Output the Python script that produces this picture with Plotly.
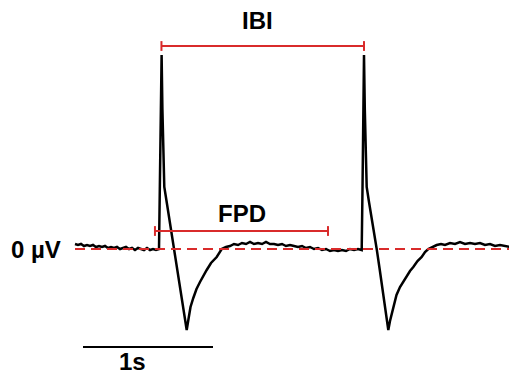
import plotly.graph_objects as go

# Field-potential trace: time (s) and voltage (µV)
time_s = [
    0.0000, 0.0231, 0.0462, 0.0692, 0.0923, 0.1154, 0.1385, 0.1615, 0.1846, 0.2077,
    0.2308, 0.2538, 0.2769, 0.3000, 0.3231, 0.3462, 0.3692, 0.3923, 0.4154, 0.4385,
    0.4615, 0.4846, 0.5077, 0.5308, 0.5538, 0.5769, 0.6000, 0.6231, 0.6462,
    0.6523, 0.6600, 0.6662, 0.6723, 0.6785, 0.6869, 0.7077, 0.7308, 0.7500, 0.7638,
    0.7846, 0.8077, 0.8308, 0.8462, 0.8592, 0.8731, 0.8885, 0.9100, 0.9346, 0.9615,
    0.9846, 1.0131, 1.0462, 1.0900, 1.1285, 1.1615, 1.1923, 1.2231, 1.2538, 1.2846,
    1.3154, 1.3462, 1.3769, 1.4077, 1.4385, 1.4692, 1.5000, 1.5308, 1.5615, 1.5923,
    1.6231, 1.6538, 1.6846, 1.7154, 1.7462, 1.7769, 1.8077, 1.8385, 1.8692, 1.9000,
    1.9308, 1.9615, 1.9923, 2.0231, 2.0538, 2.0846, 2.1154, 2.1462, 2.1769, 2.2054,
    2.2115, 2.2177, 2.2231, 2.2292, 2.2354, 2.2438, 2.2615, 2.2846, 2.3038, 2.3208,
    2.3423, 2.3654, 2.3885, 2.4100, 2.4231, 2.4485, 2.4731, 2.5000, 2.5231, 2.5515,
    2.5769, 2.6023, 2.6346, 2.6669, 2.6923, 2.7177, 2.7462, 2.7823, 2.8154, 2.8462,
    2.8846, 2.9231, 2.9615, 3.0000, 3.0385, 3.0769, 3.1154, 3.1538, 3.1923, 3.2308,
    3.2692, 3.3077, 3.3462, 3.3769, 3.4000,
]
voltage_uv = [
    5, 4, 5, 3, 4, 3, 4, 2, 3, 2,
    3, 1, 2, 1, 2, 0, 1, 2, 0, 1,
    -1, 1, 0, -1, 1, -1, 0, -1, 0,
    60, 150, 194, 140, 95, 62, 45, 26, 11, 0,
    -18, -38, -58, -71, -81, -70, -58, -49, -40, -33,
    -27, -21, -14, -8, 0, 2, 3, 5, 4, 6,
    5, 7, 5, 6, 5, 7, 5, 5, 4, 5,
    3, 4, 3, 2, 3, 1, 2, 0, 1, -1,
    0, -2, -1, -2, -1, -2, 0, -1, 0, -1,
    60, 150, 194, 140, 95, 62, 47, 30, 15, 0,
    -19, -39, -60, -81, -72, -58, -46, -38, -33, -28,
    -22, -18, -12, -8, -3, 0, 2, 4, 5, 4,
    6, 5, 7, 5, 6, 5, 6, 4, 5, 3,
    4, 3, 2, 2, 1,
]

# Annotation bars (s, µV)
ibi_t = [0.665, 2.223]
ibi_v = [203, 203]
fpd_t = [0.615, 1.946]
fpd_v = [18, 18]
zero_t = [0.0, 3.4]
zero_v = [0, 0]
scale_t = [0.0615, 1.0615]
scale_v = [-98, -98]

RED = "#d92b2b"
FONT = "Liberation Sans, Arial, sans-serif"

fig = go.Figure()
fig.add_trace(go.Scatter(x=time_s, y=voltage_uv, mode="lines",
                         line=dict(color="black", width=2.5), hoverinfo="skip"))
fig.add_trace(go.Scatter(x=zero_t, y=zero_v, mode="lines",
                         line=dict(color=RED, width=2, dash="10px,6px"), hoverinfo="skip"))
for tt, vv in [(ibi_t, ibi_v), (fpd_t, fpd_v)]:
    fig.add_trace(go.Scatter(x=tt, y=vv, mode="lines+markers",
                             line=dict(color=RED, width=2),
                             marker=dict(symbol="line-ns", size=7,
                                         line=dict(color=RED, width=2)),
                             hoverinfo="skip"))
fig.add_trace(go.Scatter(x=scale_t, y=scale_v, mode="lines",
                         line=dict(color="black", width=2), hoverinfo="skip"))

def label(text, x, y, xanchor="center"):
    fig.add_annotation(x=x, y=y, xref="x", yref="y", text=text, showarrow=False,
                       xanchor=xanchor, yanchor="middle",
                       font=dict(family=FONT, size=24, color="black", weight="bold"))

label("IBI", 1.404, 229)
label("FPD", 1.285, 36)
label("0 µV", -0.092, 0, xanchor="right")
label("1s", 0.446, -112)

# The page body has an 8px margin, so the figure is 509x371 and the ranges
# cover the visible part of the 517x379 window.
fig.update_layout(
    width=509, height=371, margin=dict(l=0, r=0, t=0, b=0),
    paper_bgcolor="white", plot_bgcolor="white", showlegend=False,
    xaxis=dict(range=[-0.5154, 3.4], visible=False, fixedrange=True),
    yaxis=dict(range=[-130, 241], visible=False, fixedrange=True),
)
fig.write_html("out.html")
